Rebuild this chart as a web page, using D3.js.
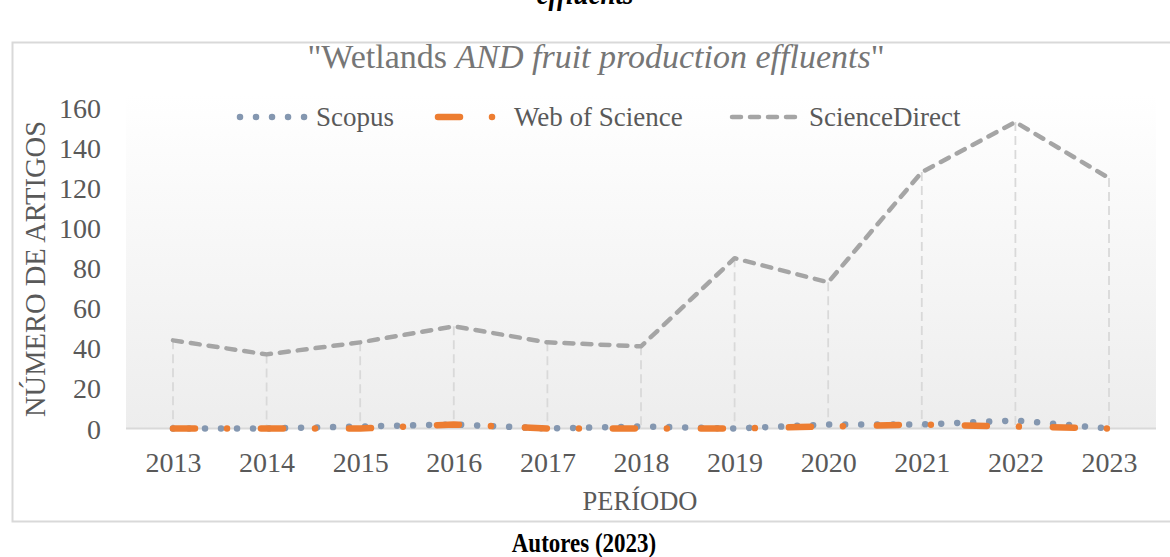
<!DOCTYPE html>
<html><head><meta charset="utf-8">
<script src="https://cdn.jsdelivr.net/npm/d3@7"></script>
<style>html,body{margin:0;padding:0;background:#fff;overflow:hidden}</style>
</head><body>
<svg id="c" width="1170" height="557"></svg>
<script>
const years = ["2013","2014","2015","2016","2017","2018","2019","2020","2021","2022","2023"];
const scopus = [0,0,1,2,0,1,0,2,2,4,0];
const webOfScience = [0,0,0,2,0,0,0,1,2,1,0];
const scienceDirect = [44,37,43,51,43,41,85,73,128,153,125];
const yTicks = [0,20,40,60,80,100,120,140,160];
const seriesNames = ["Scopus","Web of Science","ScienceDirect"];

const svg = d3.select("#c");
const serif = "'Liberation Serif','Times New Roman',serif";
const textCol = "#595959";

const x = d3.scalePoint().domain(years).range([173,1109]);
const y = d3.scaleLinear().domain([0,160]).range([428.5,108]);

const defs = svg.append("defs");
const g = defs.append("linearGradient").attr("id","bg").attr("x1",0).attr("y1",0).attr("x2",0).attr("y2",1);
g.append("stop").attr("offset","0%").attr("stop-color","#ffffff");
g.append("stop").attr("offset","100%").attr("stop-color","#ededed");

// caption top (cut off in the reference as well)
svg.append("text").attr("transform","translate(585,4) scale(1,1.15)").attr("text-anchor","middle")
  .style("font-family",serif).style("font-size","27px").style("font-weight","bold").style("font-style","italic")
  .attr("fill","#000").text("effluents");

// frame
svg.append("rect").attr("x",12.5).attr("y",42.5).attr("width",1200).attr("height",479)
  .attr("fill","#fff").attr("stroke","#d9d9d9").attr("stroke-width",2);

// plot area
svg.append("rect").attr("x",126).attr("y",95).attr("width",1030).attr("height",y(0)-95)
  .attr("fill","url(#bg)");

// title
const title = svg.append("text").attr("x",596).attr("y",68).attr("text-anchor","middle")
  .style("font-family",serif).style("font-size","34px").attr("fill","#767676");
title.append("tspan").text("\"Wetlands ");
title.append("tspan").style("font-style","italic").text("AND fruit production effluents");
title.append("tspan").text("\"");

// axis line
svg.append("line").attr("x1",126).attr("x2",1156).attr("y1",y(0)).attr("y2",y(0))
  .attr("stroke","#d9d9d9").attr("stroke-width",2);

// y axis labels
const ya = svg.append("g").attr("transform","translate(101,0)")
  .call(d3.axisLeft(y).tickValues(yTicks).tickSize(0).tickPadding(0));
ya.select(".domain").remove();
ya.selectAll("text").style("font-family",serif).style("font-size","28px").attr("fill",textCol).attr("dy","0.34em");

// x axis labels
const xa = svg.append("g").attr("transform",`translate(0,${y(0)})`)
  .call(d3.axisBottom(x).tickSize(0).tickPadding(0));
xa.select(".domain").remove();
xa.selectAll("text").style("font-family",serif).style("font-size","28px").attr("fill",textCol)
  .attr("dy",0).attr("y",43.5);

// axis titles
svg.append("text").attr("transform","translate(45,269) rotate(-90)").attr("text-anchor","middle")
  .style("font-family",serif).style("font-size","28.5px").attr("fill",textCol).text("NÚMERO DE ARTIGOS");
svg.append("text").attr("x",640).attr("y",510).attr("text-anchor","middle")
  .style("font-family",serif).style("font-size","26.5px").attr("fill",textCol).text("PERÍODO");

// drop lines
svg.append("g").selectAll("line").data(years).join("line")
  .attr("x1",d=>x(d)).attr("x2",d=>x(d))
  .attr("y1",(d,i)=>y(scienceDirect[i])).attr("y2",y(0))
  .attr("stroke","#d9d9d9").attr("stroke-width",1.8).attr("stroke-dasharray","9 5");

const line = d3.line().x((d,i)=>x(years[i])).y(d=>y(d));
const styles = [
  {data:scopus, color:"#8497b0", width:6.5, dash:"0.01 16"},
  {data:webOfScience, color:"#ed7d31", width:6.5, dash:"22 32 0.01 34"},
  {data:scienceDirect, color:"#a5a5a5", width:4.5, dash:"9 9"}
];
styles.forEach(s=>{
  svg.append("path").attr("d",line(s.data)).attr("fill","none")
    .attr("stroke",s.color).attr("stroke-width",s.width).attr("stroke-dasharray",s.dash)
    .attr("stroke-linecap","round").attr("stroke-linejoin","round");
});

// legend
const legPos = [{x1:240,x2:306,tx:316},{x1:438,x2:498,tx:514},{x1:732,x2:800,tx:809}];
const leg = svg.append("g");
styles.forEach((s,i)=>{
  const p = legPos[i];
  leg.append("line").attr("x1",p.x1).attr("x2",p.x2).attr("y1",117).attr("y2",117)
    .attr("stroke",s.color).attr("stroke-width",s.width).attr("stroke-dasharray",s.dash)
    .attr("stroke-linecap","round");
  leg.append("text").attr("x",p.tx).attr("y",126)
    .style("font-family",serif).style("font-size","27px").attr("fill",textCol).text(seriesNames[i]);
});

// source
svg.append("text").attr("transform","translate(584,552) scale(1,1.15)").attr("text-anchor","middle")
  .style("font-family",serif).style("font-size","23px").style("font-weight","bold")
  .attr("fill","#000").text("Autores (2023)");
</script>
</body></html>
